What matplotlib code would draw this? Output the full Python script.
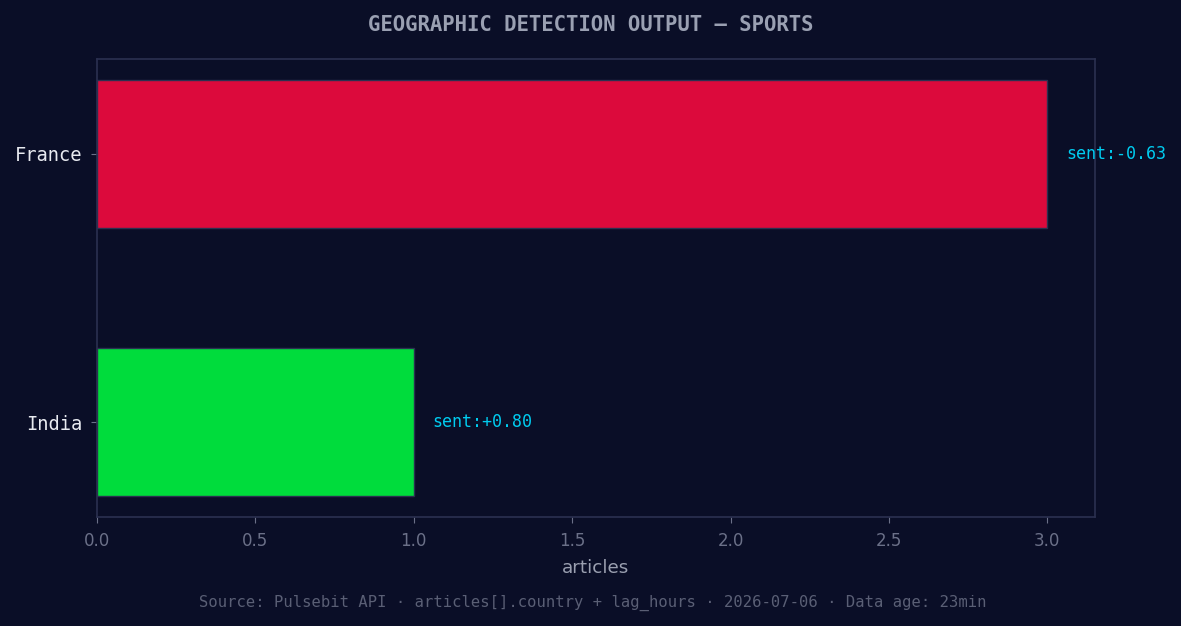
import matplotlib.pyplot as plt

# Data
countries = ["India", "France"]
articles = [1, 3]
sentiment = [0.80, -0.63]
bar_colors = ["#00dc3c", "#dc0a3c"]

bg = "#0a0e27"
spine_col = "#2b3050"

fig, ax = plt.subplots(figsize=(11.81, 6.26), dpi=100)
fig.patch.set_facecolor(bg)
ax.set_facecolor(bg)
fig.subplots_adjust(left=0.0821, right=0.927, top=0.9058, bottom=0.1741)

bars = ax.barh(countries, articles, height=0.55, color=bar_colors,
               edgecolor=spine_col, linewidth=1)

for b, s in zip(bars, sentiment):
    ax.text(b.get_width() + 0.06, b.get_y() + b.get_height() / 2,
            f"sent:{s:+.2f}", color="#00ccf0", fontsize=12,
            family="DejaVu Sans Mono", va="center", ha="left")

for sp in ax.spines.values():
    sp.set_color(spine_col)
    sp.set_linewidth(1.2)

ax.tick_params(axis="x", colors="#6b7088", labelsize=12, length=4, pad=6.5)
ax.tick_params(axis="y", colors="#6b7088", labelsize=13.5, length=4, pad=6.5)
for lbl in ax.get_yticklabels():
    lbl.set_color("#e8eaf0")
    lbl.set_family("DejaVu Sans Mono")

ax.set_xlabel("articles", color="#9a9fb0", fontsize=13.2, labelpad=7)
fig.text(0.5, 0.96, "GEOGRAPHIC DETECTION OUTPUT — SPORTS", ha="center",
         va="center", color="#9aa0b2", fontsize=14.9, fontweight="bold",
         family="DejaVu Sans Mono")
fig.text(0.5017, 0.037,
         "Source: Pulsebit API · articles[].country + lag_hours · 2026-07-06 · Data age: 23min",
         ha="center", va="center", color="#5a5f75", fontsize=11.2,
         family="DejaVu Sans Mono")

fig.savefig("out.png", dpi=100, facecolor=bg)
